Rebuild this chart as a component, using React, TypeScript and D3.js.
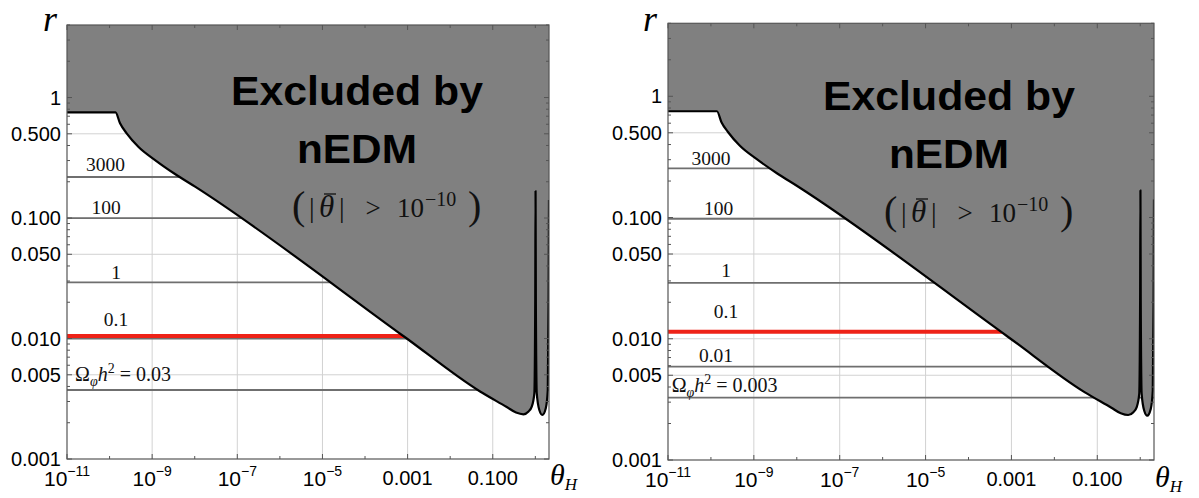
import React from 'react';
import * as d3 from 'd3';

// Axis ranges: θ_H from 1e-11 up to 2π/3, r from 1e-3 to 4
const X_MIN = 1e-11;
const X_MAX = 2.094;
const Y_MIN = 0.001;
const Y_MAX = 4;

// Edge of the nEDM-excluded region (|θ̄| > 1e-10) in the (θ_H, r) plane
const boundaryTheta = [
  1e-11, 1.38e-10, 1.76e-10, 2.52e-10, 4.73e-10, 1.17e-9, 3.44e-9, 1.02e-8,
  8.24e-4, 0.0504, 0.213, 0.352, 0.524, 0.693, 0.824, 0.948, 0.995, 1.012,
  1.028, 1.079, 1.24, 1.46, 1.76, 1.96, 2.05, 2.094,
];
const boundaryR = [
  0.753, 0.753, 0.611, 0.505, 0.391, 0.303, 0.232, 0.182,
  0.01039, 0.00363, 0.0027, 0.00243, 0.00235, 0.00248, 0.00272, 0.00351, 0.0209, 0.1675,
  0.0209, 0.00353, 0.00255, 0.00232, 0.00264, 0.00374, 0.0209, 0.141,
];

// Relic-abundance contours Ω_φ h² (left panel)
const leftLevels = ['3000', '100', '1', '0.1', '0.03'];
const leftLevelR = [0.219, 0.1, 0.0292, 0.01, 0.00374];
const leftHighlightR = 0.0105; // Ω_φ h² = 0.1 shown in red

// Relic-abundance contours Ω_φ h² (right panel)
const rightLevels = ['3000', '100', '1', '0.01', '0.003'];
const rightLevelR = [0.254, 0.0975, 0.0289, 0.0059, 0.00327];
const rightHighlightR = 0.0114;

// Ticks
const xTickValues = [1e-11, 1e-9, 1e-7, 1e-5, 1e-3, 0.1];
const xTickText = ['10^−11', '10^−9', '10^−7', '10^−5', '0.001', '0.100'];
const xMinorValues = [1e-10, 1e-8, 1e-6, 1e-4, 1e-2, 1];
const yTickValues = [1, 0.5, 0.1, 0.05, 0.01, 0.005, 0.001];
const yTickText = ['1', '0.500', '0.100', '0.050', '0.010', '0.005', '0.001'];
const xGridValues = [1e-9, 1e-7, 1e-5, 1e-3, 0.1];
const yGridValues = [1, 0.5, 0.1, 0.05, 0.01, 0.005];

const SANS = "'Liberation Sans', Arial, Helvetica, sans-serif";
const SERIF = "'Liberation Serif', 'Times New Roman', serif";
const FRAME = '#555';
const FILL = '#808080';
const CONTOUR = '#6f6f6f';
const GRID = '#d2d2d2';
const RED = '#ee2217';

type LabelSpot = { text: string; r: number; dx: number; gap: number; omega?: boolean };

type PanelProps = {
  id: string;
  left: number;
  right: number;
  top: number;
  bottom: number;
  contourR: number[];
  highlightR: number;
  labels: LabelSpot[];
  textX: number; // centre of the "Excluded by" block
  textY: number; // baseline of "Excluded by"
  rLabelX: number;
  rLabelY: number;
  thetaBase: number;
};

function yMinorValues(): number[] {
  const out: number[] = [];
  for (let n = -3; n <= 0; n++) {
    for (let k = 2; k <= 9; k++) {
      const v = k * Math.pow(10, n);
      if (v > Y_MAX * 1.0001) continue;
      if (k === 5 && n < 0) continue;
      out.push(v);
    }
  }
  return out;
}

function XTickLabel({ x, y, text }: { x: number; y: number; text: string }) {
  const parts = text.split('^');
  if (parts.length === 1) {
    return (
      <text x={x} y={y} textAnchor="middle" fontFamily={SANS} fontSize={20} fill="#000">
        {text}
      </text>
    );
  }
  return (
    <text x={x} y={y + 1} textAnchor="middle" fontFamily={SANS} fontSize={21} fill="#000">
      {parts[0]}
      <tspan fontSize={14} dy={-10}>
        {parts[1]}
      </tspan>
    </text>
  );
}

function OmegaLabel({ x, y, value }: { x: number; y: number; value: string }) {
  return (
    <text x={x} y={y} fontFamily={SERIF} fontSize={20} fill="#111">
      Ω
      <tspan fontStyle="italic" fontSize={14} dy={5}>
        φ
      </tspan>
      <tspan fontStyle="italic" dy={-5}>
        h
      </tspan>
      <tspan fontSize={14} dy={-8}>
        2
      </tspan>
      <tspan dy={8} dx={5}>
        =
      </tspan>
      <tspan dx={5}>{value}</tspan>
    </text>
  );
}

function ThetaBarLabel({ x, y }: { x: number; y: number }) {
  return (
    <g transform={`translate(${x},${y})`} fontFamily={SERIF} fill="#111">
      <text x={0} y={2} fontSize={40}>(</text>
      <text x={17} y={0} fontSize={28}>|</text>
      <text x={27} y={0} fontSize={31} fontStyle="italic">θ</text>
      <line x1={32} x2={44} y1={-23} y2={-23} stroke="#111" strokeWidth={1.3} />
      <text x={47} y={0} fontSize={28}>|</text>
      <text x={81} y={0} fontSize={27} textAnchor="middle">&gt;</text>
      <text x={105} y={0} fontSize={27}>10</text>
      <text x={133} y={-11} fontSize={20}>−10</text>
      <text x={176} y={2} fontSize={40}>)</text>
    </g>
  );
}

function Panel(p: PanelProps) {
  const x = d3.scaleLog().domain([X_MIN, X_MAX]).range([p.left, p.right]);
  const y = d3.scaleLog().domain([Y_MIN, Y_MAX]).range([p.bottom, p.top]);

  const pts: [number, number][] = boundaryTheta.map((t, i) => [x(t), y(boundaryR[i])]);
  const edge = d3.line().curve(d3.curveMonotoneX)(pts) || '';
  const fillPath = `${edge}L${p.right},${p.top}L${p.left},${p.top}Z`;

  const clipId = `clip-${p.id}`;
  const yMinor = yMinorValues();
  const major = 5;
  const minor = 3;

  return (
    <g>
      <defs>
        <clipPath id={clipId}>
          <rect x={p.left} y={p.top} width={p.right - p.left} height={p.bottom - p.top} />
        </clipPath>
      </defs>

      <g clipPath={`url(#${clipId})`}>
        {/* grid */}
        {xGridValues.map((v) => (
          <line key={`gx${v}`} x1={x(v)} x2={x(v)} y1={p.top} y2={p.bottom} stroke={GRID} strokeWidth={1} />
        ))}
        {yGridValues.map((v) => (
          <line key={`gy${v}`} x1={p.left} x2={p.right} y1={y(v)} y2={y(v)} stroke={GRID} strokeWidth={1} />
        ))}

        {/* Ω_φ h² contours */}
        {p.contourR.map((r, i) => (
          <line key={`c${i}`} x1={p.left} x2={p.right} y1={y(r)} y2={y(r)} stroke={CONTOUR} strokeWidth={1.8} />
        ))}
        <line x1={p.left} x2={p.right} y1={y(p.highlightR)} y2={y(p.highlightR)} stroke={RED} strokeWidth={4} />

        {/* excluded region */}
        <path d={fillPath} fill={FILL} stroke="none" />
        <path d={edge} fill="none" stroke="#000" strokeWidth={2.2} strokeLinejoin="round" />
      </g>

      {/* frame */}
      <rect
        x={p.left}
        y={p.top}
        width={p.right - p.left}
        height={p.bottom - p.top}
        fill="none"
        stroke={FRAME}
        strokeWidth={1.2}
      />

      {/* ticks */}
      {xTickValues.map((v) => (
        <g key={`xt${v}`}>
          <line x1={x(v)} x2={x(v)} y1={p.bottom} y2={p.bottom - major} stroke={FRAME} />
          <line x1={x(v)} x2={x(v)} y1={p.top} y2={p.top + major} stroke={FRAME} />
        </g>
      ))}
      {xMinorValues.map((v) => (
        <g key={`xm${v}`}>
          <line x1={x(v)} x2={x(v)} y1={p.bottom} y2={p.bottom - minor} stroke={FRAME} />
          <line x1={x(v)} x2={x(v)} y1={p.top} y2={p.top + minor} stroke={FRAME} />
        </g>
      ))}
      {yTickValues.map((v) => (
        <g key={`yt${v}`}>
          <line x1={p.left} x2={p.left + major} y1={y(v)} y2={y(v)} stroke={FRAME} />
          <line x1={p.right} x2={p.right - major} y1={y(v)} y2={y(v)} stroke={FRAME} />
        </g>
      ))}
      {yMinor.map((v) => (
        <g key={`ym${v}`}>
          <line x1={p.left} x2={p.left + minor} y1={y(v)} y2={y(v)} stroke={FRAME} />
          <line x1={p.right} x2={p.right - minor} y1={y(v)} y2={y(v)} stroke={FRAME} />
        </g>
      ))}

      {/* tick labels */}
      {xTickValues.map((v, i) => (
        <XTickLabel key={`xl${v}`} x={x(v)} y={p.bottom + 26} text={xTickText[i]} />
      ))}
      {yTickValues.map((v, i) => (
        <text
          key={`yl${v}`}
          x={p.left - 6}
          y={y(v) + 7}
          textAnchor="end"
          fontFamily={SANS}
          fontSize={20}
          fill="#000"
        >
          {yTickText[i]}
        </text>
      ))}

      {/* contour labels */}
      {p.labels.map((l, i) =>
        l.omega ? (
          <OmegaLabel key={`l${i}`} x={p.left + l.dx} y={y(l.r) - l.gap} value={l.text} />
        ) : (
          <text
            key={`l${i}`}
            x={p.left + l.dx}
            y={y(l.r) - l.gap}
            textAnchor="middle"
            fontFamily={SERIF}
            fontSize={19.5}
            fill="#111"
          >
            {l.text}
          </text>
        )
      )}

      {/* region annotation */}
      <text
        x={p.textX}
        y={p.textY}
        textAnchor="middle"
        fontFamily={SANS}
        fontWeight="bold"
        fontSize={40}
        textLength={252}
        lengthAdjust="spacingAndGlyphs"
        fill="#000"
      >
        Excluded by
      </text>
      <text
        x={p.textX}
        y={p.textY + 58}
        textAnchor="middle"
        fontFamily={SANS}
        fontWeight="bold"
        fontSize={40}
        textLength={120}
        lengthAdjust="spacingAndGlyphs"
        fill="#000"
      >
        nEDM
      </text>
      <ThetaBarLabel x={p.textX - 65} y={p.textY + 112} />

      {/* axis titles */}
      <text x={p.rLabelX} y={p.rLabelY} fontFamily={SERIF} fontStyle="italic" fontSize={36} fill="#000">
        r
      </text>
      <text x={p.right + 1} y={p.thetaBase} fontFamily={SERIF} fontStyle="italic" fontSize={30} fill="#000">
        θ
        <tspan fontSize={17} dy={5}>
          H
        </tspan>
      </text>
    </g>
  );
}

export default function App() {
  const leftLabels: LabelSpot[] = [
    { text: leftLevels[0], r: leftLevelR[0], dx: 38.5, gap: 6.5 },
    { text: leftLevels[1], r: leftLevelR[1], dx: 39, gap: 4 },
    { text: leftLevels[2], r: leftLevelR[2], dx: 49, gap: 3.5 },
    { text: leftLevels[3], r: leftHighlightR, dx: 49, gap: 10 },
    { text: leftLevels[4], r: leftLevelR[4], dx: 8, gap: 9, omega: true },
  ];
  const rightLabels: LabelSpot[] = [
    { text: rightLevels[0], r: rightLevelR[0], dx: 43, gap: 3.5 },
    { text: rightLevels[1], r: rightLevelR[1], dx: 50.5, gap: 4.3 },
    { text: rightLevels[2], r: rightLevelR[2], dx: 58, gap: 5.6 },
    { text: '0.1', r: rightHighlightR, dx: 58, gap: 13.7 },
    { text: rightLevels[3], r: rightLevelR[3], dx: 48, gap: 5 },
    { text: rightLevels[4], r: rightLevelR[4], dx: 3.7, gap: 6, omega: true },
  ];

  return (
    <svg
      width={1199}
      height={498}
      viewBox="0 0 1199 498"
      style={{ position: 'absolute', left: 0, top: 0, display: 'block', background: '#fff' }}
    >
      <Panel
        id="a"
        left={67}
        right={549}
        top={25}
        bottom={459}
        contourR={leftLevelR}
        highlightR={leftHighlightR}
        labels={leftLabels}
        textX={357}
        textY={105}
        rLabelX={43}
        rLabelY={31}
        thetaBase={485}
      />
      <Panel
        id="b"
        left={668}
        right={1154}
        top={23.3}
        bottom={460}
        contourR={rightLevelR}
        highlightR={rightHighlightR}
        labels={rightLabels}
        textX={949}
        textY={110}
        rLabelX={643}
        rLabelY={31}
        thetaBase={487}
      />
    </svg>
  );
}
